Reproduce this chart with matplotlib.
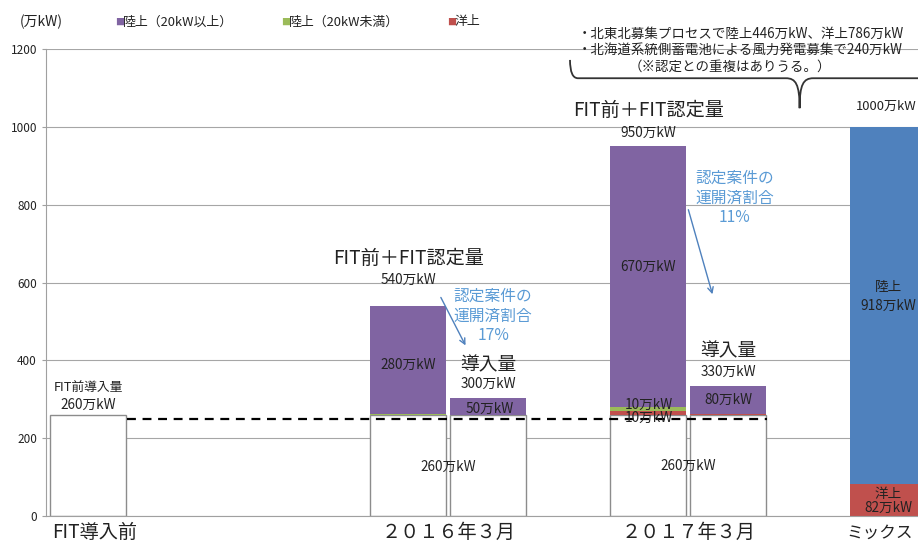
import matplotlib
matplotlib.use("Agg")
import matplotlib.pyplot as plt
from matplotlib.path import Path
from matplotlib.patches import PathPatch

plt.rcParams['font.family'] = ['Noto Sans CJK JP', 'DejaVu Sans']

# %% data (万kW)
x_pos = [0, 4, 5, 7, 8, 10]
base_fit = [260, 260, 260, 260, 260, 0]      # FIT前導入量 (白)
offshore = [0, 0, 0, 10, 3, 82]              # 洋上
onshore_small = [0, 3, 0, 10, 0, 0]          # 陸上（20kW未満）
onshore_large = [0, 277, 42, 670, 70, 0]     # 陸上（20kW以上）
mix_onshore = [0, 0, 0, 0, 0, 918]           # ミックス 陸上

x_ticks = [0.08, 4.5, 7.5]
x_labels = ["FIT導入前", "２０１６年３月", "２０１７年３月"]
mix_label = "ミックス"
y_ticks = [0, 200, 400, 600, 800, 1000, 1200]

C_PURPLE = "#8064A2"
C_GREEN = "#9BBB59"
C_RED = "#C0504D"
C_BLUE = "#4F81BD"
C_TXT_BLUE = "#5B9BD5"
C_TXT = "#222222"

fig = plt.figure(figsize=(9.18, 5.45), dpi=100)
ax = fig.add_axes([0.0501, 0.0532, 0.9499, 0.8568])

# %% bars
w = 0.95
ax.bar(x_pos, base_fit, width=w, color="white", edgecolor="#8C8C8C", linewidth=1, zorder=2)
b = list(base_fit)
ax.bar(x_pos, offshore, width=w, bottom=b, color=C_RED, zorder=2)
b = [i + j for i, j in zip(b, offshore)]
ax.bar(x_pos, onshore_small, width=w, bottom=b, color=C_GREEN, zorder=2)
b = [i + j for i, j in zip(b, onshore_small)]
ax.bar(x_pos, onshore_large, width=w, bottom=b, color=C_PURPLE, zorder=2)
b = [i + j for i, j in zip(b, onshore_large)]
ax.bar(x_pos, mix_onshore, width=w, bottom=b, color=C_BLUE, zorder=2)

# FIT前導入量ライン
ax.plot([0.48, 8.48], [250, 250], color="black", linestyle=(0, (4, 3)), linewidth=1.6, zorder=3)

# %% axes
ax.set_xlim(-0.53, 10.37)
ax.set_ylim(0, 1200)
ax.set_yticks(y_ticks)
ax.set_xticks(x_ticks)
ax.set_xticklabels(x_labels, fontsize=13.8, color=C_TXT)
ax.tick_params(axis="x", length=0, pad=4)
ax.tick_params(axis="y", labelsize=8.5, length=3, color="#A0A0A0", labelcolor=C_TXT)
ax.grid(axis="y", color="#A6A6A6", linewidth=0.8)
ax.set_axisbelow(True)
for s in ["top", "right"]:
    ax.spines[s].set_visible(False)
ax.spines["left"].set_color("#A0A0A0")
ax.spines["bottom"].set_color("#A0A0A0")

# ミックス は右端ぎりぎりなので左寄せで置く
ax.text(9.47, -0.036, mix_label, transform=ax.get_xaxis_transform(),
        ha="left", va="center", fontsize=12, color=C_TXT)

# %% labels
def t(x, y, s, size=9.8, color=C_TXT, **kw):
    ax.text(x, y, s, ha="center", va="center", fontsize=size, color=color, zorder=5, **kw)

t(0.0, 329, "FIT前導入量", 9.2)
t(0.0, 285, "260万kW")

t(4.0, 663, "FIT前＋FIT認定量", 13.8)
t(4.0, 607, "540万kW")
t(4.0, 388, "280万kW")
t(5.0, 388, "導入量", 13.5)
t(5.0, 339, "300万kW")
t(5.02, 275, "50万kW")
t(4.5, 126, "260万kW")
t(5.06, 514, "認定案件の\n運開済割合\n17%", 11.3, C_TXT_BLUE, linespacing=1.2)
ax.annotate("", xy=(4.73, 432), xytext=(4.39, 568),
            arrowprops=dict(arrowstyle="->", color=C_BLUE, lw=1))

t(7.0, 1043, "FIT前＋FIT認定量", 13.8)
t(7.0, 984, "950万kW")
t(7.0, 640, "670万kW")
t(7.0, 285, "10万kW")
t(7.0, 252, "10万kW")
t(8.0, 424, "導入量", 13.5)
t(8.0, 370, "330万kW")
t(8.0, 298, "80万kW")
t(7.5, 128, "260万kW")
t(8.08, 817, "認定案件の\n運開済割合\n11%", 11.3, C_TXT_BLUE, linespacing=1.2)
ax.annotate("", xy=(7.81, 563), xytext=(7.49, 794),
            arrowprops=dict(arrowstyle="->", color=C_BLUE, lw=1))

t(9.97, 1053, "1000万kW", 9.4)
t(10.0, 588, "陸上")
t(10.0, 540, "918万kW")
t(10.0, 57, "洋上")
t(10.0, 21, "82万kW")

# %% bracket note
ax.text(6.12, 1238, "・北東北募集プロセスで陸上446万kW、洋上786万kW", fontsize=9.7,
        color=C_TXT, va="center", ha="left")
ax.text(6.12, 1197, "・北海道系統側蓄電池による風力発電募集で240万kW", fontsize=9.7,
        color=C_TXT, va="center", ha="left")
ax.text(8.02, 1154, "（※認定との重複はありうる。）", fontsize=9.7,
        color=C_TXT, va="center", ha="center")

verts = [(6.02, 1172), (6.02, 1125), (6.12, 1125), (6.22, 1125),
         (8.72, 1125),
         (8.84, 1125), (8.89, 1110), (8.89, 1048),
         (8.89, 1110), (8.94, 1125), (9.06, 1125),
         (10.5, 1125)]
codes = [Path.MOVETO, Path.CURVE3, Path.CURVE3, Path.LINETO,
         Path.LINETO,
         Path.CURVE4, Path.CURVE4, Path.CURVE4,
         Path.CURVE4, Path.CURVE4, Path.CURVE4,
         Path.LINETO]
ax.add_patch(PathPatch(Path(verts, codes), fill=False, edgecolor="#333333",
                       linewidth=1.3, clip_on=False, zorder=5))

# %% legend (top)
ly = 1 - 22 / 545
fig.text(20 / 918, ly, "(万kW)", fontsize=10, color=C_TXT, va="center")
for px, col, lab in [(115, C_PURPLE, "陸上（20kW以上）"),
                     (281, C_GREEN, "陸上（20kW未満）"),
                     (447, C_RED, "洋上")]:
    fig.text(px / 918, ly, "■", fontsize=6.5, color=col, va="center")
    fig.text((px + 8) / 918, ly, lab, fontsize=9.3, color=C_TXT, va="center")

fig.savefig("out.png", dpi=100)
